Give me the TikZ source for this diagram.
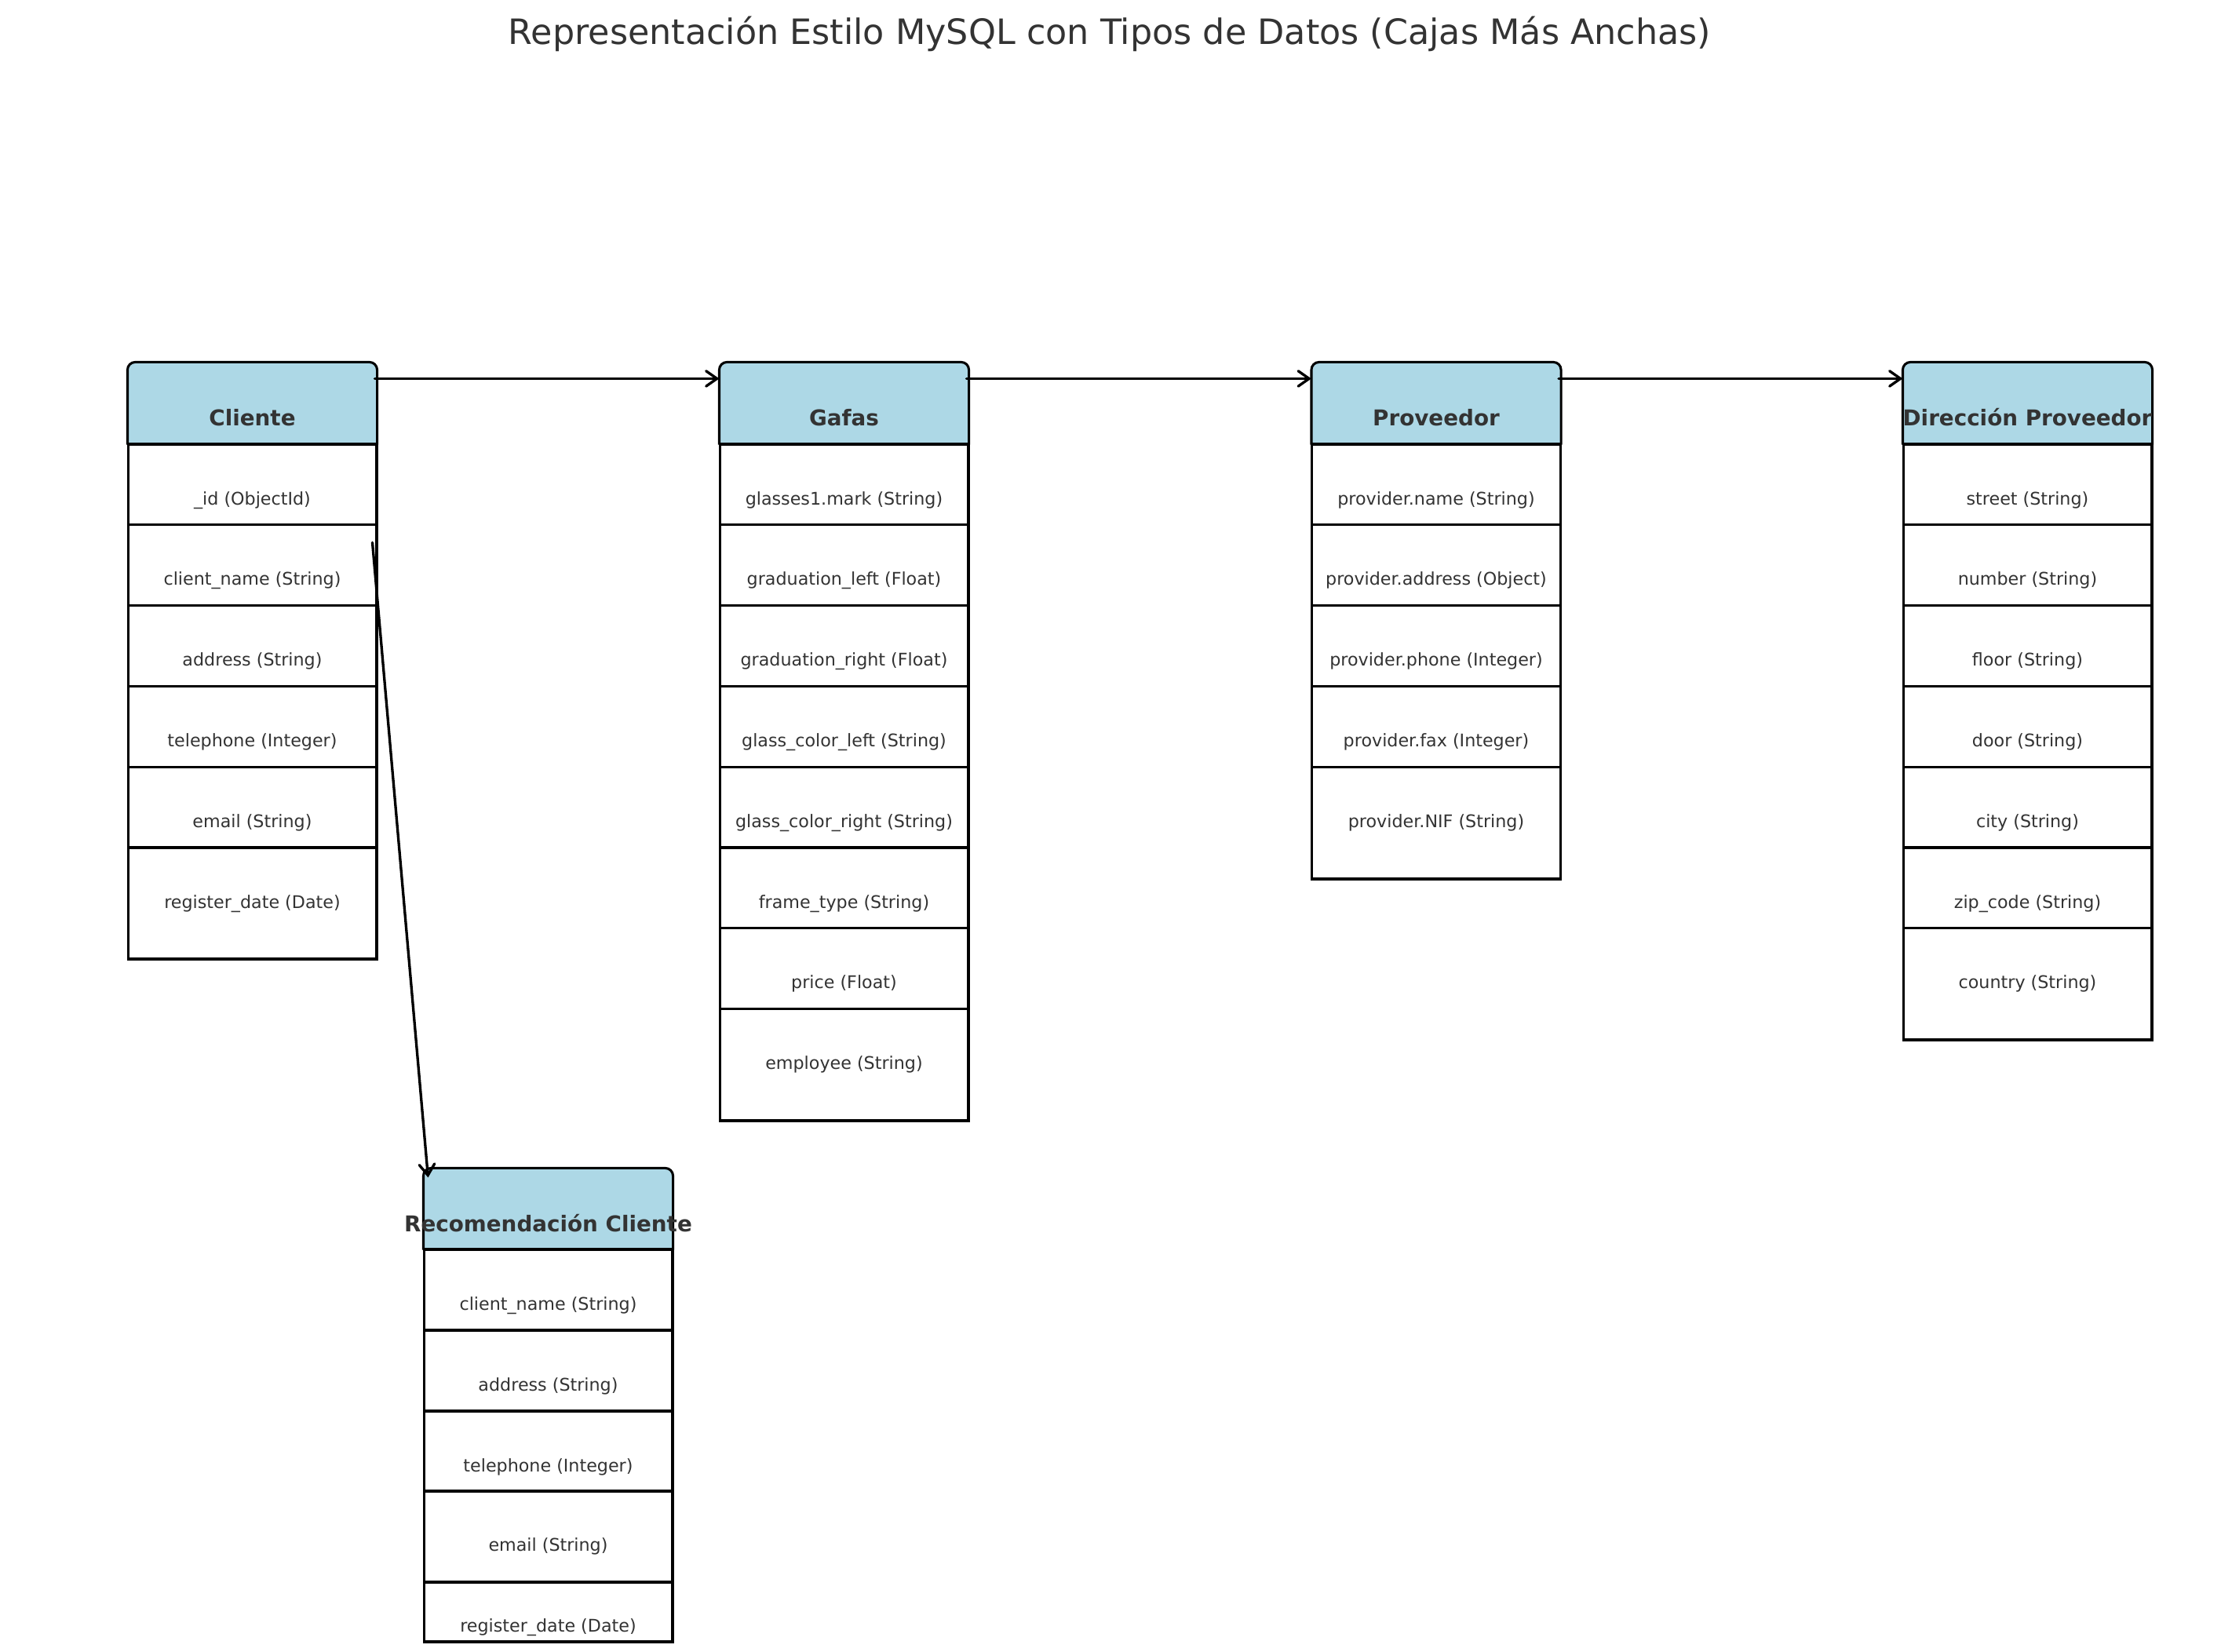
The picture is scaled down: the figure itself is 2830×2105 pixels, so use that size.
\documentclass[tikz,border=0pt]{standalone}
\usepackage{fontspec}
\setmainfont{DejaVu Sans}
\usetikzlibrary{arrows.meta,calc}
\definecolor{hdr}{HTML}{ADD8E6}
\definecolor{txt}{HTML}{333333}
\tikzset{
  hdrbox/.style={draw=none, inner sep=0pt, minimum width=114.1pt, minimum height=37.4pt},
  hdrshape/.style={fill=hdr, draw=black, line width=1.1pt, rounded corners=3.5pt},
  rowbox/.style={draw=black, fill=white, line width=1.1pt, inner sep=0pt, minimum width=114.1pt},
  titletext/.style={anchor=base, inner sep=0pt, text=txt, font=\fontsize{10}{12}\selectfont\bfseries},
  rowtext/.style={anchor=base, inner sep=0pt, text=txt, font=\fontsize{8}{10}\selectfont},
  rel/.style={draw=black, line width=1.2pt, line cap=round, -{Straight Barb[length=5pt,width=7pt,line cap=round]}},
}
% #1 name, #2 center x, #3 header top, #4 header height, #5 title, #6 list top/height/offset/text
\newcommand{\erbox}[6]{%
  \node[hdrbox, minimum height={#4*0.36pt}] (#1) at (#2,{#3+#4/2}) {};
  \filldraw[hdrshape] (#1.south west) -- (#1.north west) -- (#1.north east) -- (#1.south east);
  \node[titletext] (#1-t) at (#2,{#3+80}) {#5};
  \foreach \yt/\rh/\tb/\f [count=\i] in {#6} {
    \node[rowbox, minimum height={\rh*0.36pt}] (#1-\i) at (#2,{\yt+\rh/2}) {};
    \node[rowtext] (#1-\i-t) at (#2,{\yt+\tb}) {\f};
  }%
}
\begin{document}
\begin{tikzpicture}[x=0.36pt, y=-0.36pt]
\useasboundingbox[fill=white] (0,0) rectangle (2830,2105);

\node[anchor=base, inner sep=0pt, text=txt, font=\fontsize{16}{19}\selectfont] (title) at (1414,56)
  {Representación Estilo MySQL con Tipos de Datos (Cajas Más Anchas)};

\erbox{cli}{321.5}{462}{104}{Cliente}{%
  566/102.8/77/\_id (ObjectId),
  668.8/102.8/77/client\_name (String),
  771.6/102.8/77/address (String),
  874.4/102.8/77/telephone (Integer),
  977.2/102.8/77/email (String),
  1080/142/77/register\_date (Date)}

\erbox{gaf}{1075.5}{462}{104}{Gafas}{%
  566/102.8/77/glasses1.mark (String),
  668.8/102.8/77/graduation\_left (Float),
  771.6/102.8/77/graduation\_right (Float),
  874.4/102.8/77/glass\_color\_left (String),
  977.2/102.8/77/glass\_color\_right (String),
  1080/102.8/77/frame\_type (String),
  1182.8/102.8/77/price (Float),
  1285.6/142.4/77/employee (String)}

\erbox{pro}{1830}{462}{104}{Proveedor}{%
  566/102.8/77/provider.name (String),
  668.8/102.8/77/provider.address (Object),
  771.6/102.8/77/provider.phone (Integer),
  874.4/102.8/77/provider.fax (Integer),
  977.2/142.8/77/provider.NIF (String)}

\erbox{dir}{2583.5}{462}{104}{Dirección Proveedor}{%
  566/102.8/77/street (String),
  668.8/102.8/77/number (String),
  771.6/102.8/77/floor (String),
  874.4/102.8/77/door (String),
  977.2/102.8/77/city (String),
  1080/102.8/77/zip\_code (String),
  1182.8/142.2/77/country (String)}

\erbox{rec}{698.5}{1489}{103}{Recomendación Cliente}{%
  1592/103/77/client\_name (String),
  1695/103/77/address (String),
  1798/102/77/telephone (Integer),
  1900/116/76/email (String),
  2016/76/63/register\_date (Date)}

\draw[rel] ($(cli.north east)+(-3,21)$) -- ($(gaf.north west)+(0,21)$);
\draw[rel] ($(gaf.north east)+(-3,21)$) -- ($(pro.north west)+(0,21)$);
\draw[rel] ($(pro.north east)+(-3,21)$) -- ($(dir.north west)+(0,21)$);
\draw[rel] ($(cli-2.north east)+(-7,24)$) -- ($(rec.north west)+(6,12)$);
\end{tikzpicture}
\end{document}
